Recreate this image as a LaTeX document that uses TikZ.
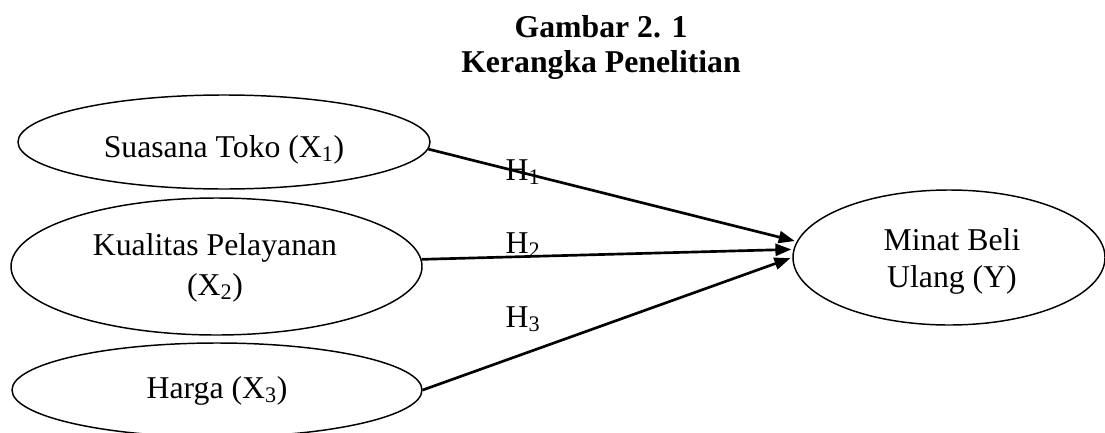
\documentclass[tikz,border=0pt]{standalone}
\usepackage{fontspec}
\setmainfont{Liberation Serif}
\usetikzlibrary{shapes.geometric,arrows.meta}
\begin{document}
\begin{tikzpicture}[x=0.75pt,y=-0.75pt,
  oval/.style={ellipse,draw,line width=1.1pt,inner sep=0pt},
  txt/.style={anchor=base,inner sep=0pt,font=\fontsize{23.8}{28}\selectfont},
  ttl/.style={anchor=base,inner sep=0pt,font=\fontsize{23.8}{28}\selectfont\bfseries},
  hyp/.style={line width=2pt,-{Triangle[length=12pt,width=9pt]},shorten >=1.5pt}]
\useasboundingbox (0,0) rectangle (1105,432);
% title
\node[ttl] (t1) at (601,37) {Gambar 2. 1};
\node[ttl] (t2) at (601,72) {Kerangka Penelitian};
% ellipses
\node[oval,minimum width=412*0.75pt,minimum height=94*0.75pt] (e1) at (224,142) {};
\node[oval,minimum width=411*0.75pt,minimum height=137*0.75pt] (e2) at (216.5,266.5) {};
\node[oval,minimum width=410*0.75pt,minimum height=94*0.75pt] (e3) at (217,390) {};
\node[oval,minimum width=312*0.75pt,minimum height=135*0.75pt] (e4) at (949,257.5) {};
% texts
\node[txt] (l1) at (224,157) {Suasana Toko (X\textsubscript{1})};
\node[txt] (l2a) at (215,255) {Kualitas Pelayanan};
\node[txt] (l2b) at (215,295) {(X\textsubscript{2})};
\node[txt] (l3) at (217,398) {Harga (X\textsubscript{3})};
\node[txt] (l4a) at (952,250) {Minat Beli};
\node[txt] (l4b) at (952,287) {Ulang (Y)};
% arrows
\draw[hyp] (e1.-2.5) -- (e4.174.5);
\draw[hyp] (e2.2.6) -- (e4.177.2);
\draw[hyp] (e3.0.8) -- (e4.180.5);
% hypothesis labels
\node[txt] (h1) at (523,180) {H\textsubscript{1}};
\node[txt] (h2) at (523,253) {H\textsubscript{2}};
\node[txt] (h3) at (523,327) {H\textsubscript{3}};
\end{tikzpicture}
\end{document}
